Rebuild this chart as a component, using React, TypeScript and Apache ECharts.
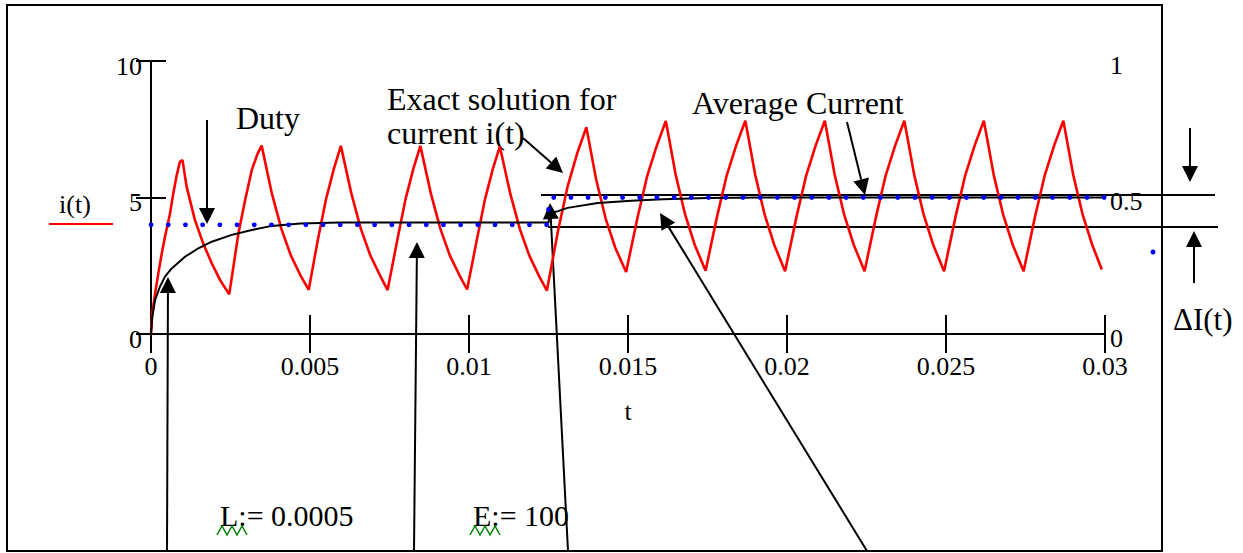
import React, { useEffect, useRef } from "react";
import * as echarts from "echarts";

// ---- data ----
const xMin = 0;
const xMax = 0.03;
const xStep = 0.005;
const leftMax = 10;
const leftStep = 5;
const rightMax = 1;
const rightStep = 0.5;

// exact solution i(t)  [t, i]
const exactCurrent: [number, number][] = [
  [0, 0], [0.00004, 0.76], [0.00013, 1.49], [0.00023, 2.22], [0.00034, 2.96], [0.00044, 3.56],
  [0.0006, 4.42], [0.0007, 5.15], [0.00081, 5.82], [0.00091, 6.31], [0.00099, 6.37],
  [0.00112, 5.4], [0.00138, 4.18], [0.00164, 3.32], [0.00191, 2.59], [0.00217, 1.98], [0.00246, 1.45],
  [0.00259, 2.46], [0.00275, 3.69], [0.00296, 4.91], [0.00317, 6.01], [0.00335, 6.6], [0.00348, 6.9],
  [0.0038, 5.15], [0.0041, 3.85], [0.0044, 2.87], [0.0047, 2.15], [0.00496, 1.62],
  [0.00525, 3.47], [0.0055, 4.92], [0.00575, 6.05], [0.00597, 6.89],
  [0.0063, 5.15], [0.0066, 3.85], [0.0069, 2.87], [0.0072, 2.15], [0.00744, 1.61],
  [0.00775, 3.47], [0.008, 4.92], [0.00825, 6.05], [0.00847, 6.89],
  [0.0088, 5.15], [0.0091, 3.85], [0.0094, 2.87], [0.0097, 2.15], [0.00994, 1.63],
  [0.01025, 3.47], [0.0105, 4.92], [0.01075, 6.05], [0.01097, 6.87],
  [0.0113, 5.13], [0.0116, 3.84], [0.0119, 2.86], [0.0122, 2.13], [0.01245, 1.59],
  [0.0128, 3.78], [0.0131, 5.4], [0.0134, 6.61], [0.01369, 7.57],
  [0.014, 5.65], [0.0143, 4.22], [0.0146, 3.16], [0.01494, 2.27],
  [0.0153, 4.27], [0.0156, 5.77], [0.0159, 6.88], [0.01619, 7.8],
  [0.0165, 5.83], [0.0168, 4.36], [0.0171, 3.26], [0.01744, 2.32],
  [0.0178, 4.3], [0.0181, 5.79], [0.0184, 6.9], [0.01869, 7.81],
  [0.019, 5.83], [0.0193, 4.36], [0.0196, 3.26], [0.01994, 2.3],
  [0.0203, 4.3], [0.0206, 5.79], [0.0209, 6.9], [0.02119, 7.81],
  [0.0215, 5.83], [0.0218, 4.36], [0.0221, 3.26], [0.02244, 2.3],
  [0.0228, 4.3], [0.0231, 5.79], [0.0234, 6.9], [0.02369, 7.81],
  [0.024, 5.83], [0.0243, 4.36], [0.0246, 3.26], [0.02494, 2.3],
  [0.0253, 4.3], [0.0256, 5.79], [0.0259, 6.9], [0.02619, 7.81],
  [0.0265, 5.83], [0.0268, 4.36], [0.0271, 3.26], [0.02744, 2.3],
  [0.0278, 4.3], [0.0281, 5.79], [0.0284, 6.9], [0.02869, 7.81],
  [0.029, 5.83], [0.0293, 4.36], [0.0296, 3.26], [0.0299, 2.36],
];

// average current [t, i]
const averageCurrent: [number, number][] = [
  [0, 0], [0.00004, 0.63], [0.00013, 1.25], [0.00028, 1.73], [0.00044, 2.1], [0.00065, 2.4],
  [0.00107, 2.83], [0.00149, 3.14], [0.00191, 3.38], [0.00254, 3.63], [0.00317, 3.81],
  [0.0038, 3.96], [0.00469, 4.05], [0.00594, 4.08], [0.0125, 4.08],
  [0.01252, 4.25], [0.01256, 4.42], [0.0128, 4.5], [0.0131, 4.62], [0.01405, 4.8],
  [0.0151, 4.88], [0.0161, 4.94], [0.0175, 4.98], [0.0195, 5.0], [0.03, 5.0],
];

// duty (right axis)
const dutyTime = [0, 0.0125, 0.0125, 0.03];
const dutyValue = [0.4, 0.4, 0.5, 0.5];

const SERIF = '"Liberation Serif", "Times New Roman", serif';

function arrow(x1: number, y1: number, x2: number, y2: number) {
  const dx = x2 - x1;
  const dy = y2 - y1;
  const len = Math.sqrt(dx * dx + dy * dy);
  const ux = dx / len;
  const uy = dy / len;
  const hl = 16;
  const hw = 8;
  const bx = x2 - ux * hl;
  const by = y2 - uy * hl;
  return [
    {
      type: "line",
      silent: true,
      shape: { x1, y1, x2: bx, y2: by },
      style: { stroke: "#000", lineWidth: 2 },
    },
    {
      type: "polygon",
      silent: true,
      shape: {
        points: [
          [x2, y2],
          [bx - uy * hw, by + ux * hw],
          [bx + uy * hw, by - ux * hw],
        ],
      },
      style: { fill: "#000" },
    },
  ];
}

function txt(text: string, x: number, y: number, size: number, align = "left") {
  return {
    type: "text",
    silent: true,
    style: {
      text,
      x,
      y,
      fill: "#000",
      fontSize: size,
      fontFamily: SERIF,
      align,
      verticalAlign: "middle",
    },
  };
}

function squiggle(x0: number, y0: number) {
  const pts: number[][] = [];
  for (let i = 0; i <= 6; i++) pts.push([x0 + i * 5, i % 2 === 0 ? y0 + 9 : y0]);
  return {
    type: "polyline",
    silent: true,
    shape: { points: pts },
    style: { stroke: "#008000", lineWidth: 1.5, fill: null },
  };
}

const fmt = (v: number) => String(parseFloat(v.toFixed(4)));

export default function App() {
  const ref = useRef<HTMLDivElement>(null);
  useEffect(() => {
    if (!ref.current) return;
    const chart = echarts.init(ref.current, undefined, { renderer: "svg" });
    const axisLineStyle = { color: "#000", width: 2 };
    const labelBase = { fontSize: 26, fontFamily: SERIF, color: "#000" };
    const option: any = {
      animation: false,
      backgroundColor: "#ffffff",
      grid: { left: 151, right: 138, top: 61, bottom: 219 },
      xAxis: [
        {
          type: "value",
          min: xMin,
          max: xMax,
          interval: xStep,
          position: "bottom",
          axisLine: { lineStyle: axisLineStyle },
          axisTick: { inside: true, length: 19, lineStyle: axisLineStyle },
          axisLabel: { ...labelBase, margin: 19, formatter: fmt },
          splitLine: { show: false },
          name: "t",
          nameLocation: "middle",
          nameGap: 64,
          nameTextStyle: { fontSize: 26, fontFamily: SERIF, color: "#000" },
        },
        {
          type: "value",
          min: xMin,
          max: xMax,
          interval: xStep,
          position: "top",
          axisLine: { lineStyle: axisLineStyle },
          axisTick: { inside: true, length: 19, lineStyle: axisLineStyle },
          axisLabel: { show: false },
          splitLine: { show: false },
        },
      ],
      yAxis: [
        {
          type: "value",
          min: 0,
          max: leftMax,
          interval: leftStep,
          position: "left",
          axisLine: { show: true, lineStyle: axisLineStyle },
          axisTick: { show: true, inside: true, length: 15, lineStyle: axisLineStyle },
          axisLabel: {
            ...labelBase,
            margin: 9,
            verticalAlign: "top",
            lineHeight: 10,
            formatter: fmt,
          },
          splitLine: { show: false },
        },
        {
          type: "value",
          min: 0,
          max: rightMax,
          interval: rightStep,
          position: "right",
          axisLine: { show: true, lineStyle: axisLineStyle },
          axisTick: { show: true, inside: true, length: 15, lineStyle: axisLineStyle },
          axisLabel: {
            ...labelBase,
            margin: 5,
            verticalAlign: "top",
            lineHeight: 8,
            formatter: fmt,
          },
          splitLine: { show: false },
        },
      ],
      series: [
        {
          name: "i(t)",
          type: "line",
          xAxisIndex: 0,
          yAxisIndex: 0,
          data: exactCurrent,
          showSymbol: false,
          lineStyle: { color: "#ff0000", width: 2.6 },
          z: 3,
        },
        {
          name: "Average Current",
          type: "line",
          xAxisIndex: 0,
          yAxisIndex: 0,
          data: averageCurrent,
          showSymbol: false,
          smooth: false,
          lineStyle: { color: "#000", width: 2 },
          z: 4,
        },
        {
          name: "Duty",
          type: "line",
          xAxisIndex: 0,
          yAxisIndex: 1,
          data: dutyTime.map((t, i) => [t, dutyValue[i]]),
          showSymbol: false,
          lineStyle: { color: "#0000ff", width: 4.8, type: [0.1, 17.1], cap: "round" },
          z: 5,
        },
      ],
      graphic: {
        elements: [
          {
            type: "rect",
            silent: true,
            shape: { x: 7, y: 5, width: 1155, height: 546 },
            style: { fill: null, stroke: "#000", lineWidth: 2 },
          },
          // legend sample for i(t)
          txt("i(t)", 75, 204, 26, "center"),
          {
            type: "line",
            silent: true,
            shape: { x1: 49, y1: 224, x2: 113, y2: 224 },
            style: { stroke: "#ff0000", lineWidth: 2 },
          },
          // legend sample for duty trace (right axis)
          {
            type: "circle",
            silent: true,
            shape: { cx: 1153, cy: 252, r: 2.5 },
            style: { fill: "#0000ff" },
          },
          // ripple bracket lines
          {
            type: "line",
            silent: true,
            shape: { x1: 541, y1: 195, x2: 1215, y2: 195 },
            style: { stroke: "#000", lineWidth: 1.8 },
          },
          {
            type: "line",
            silent: true,
            shape: { x1: 548, y1: 227, x2: 1218, y2: 227 },
            style: { stroke: "#000", lineWidth: 1.8 },
          },
          // annotation texts
          txt("Duty", 236, 118, 32),
          txt("Exact solution for", 387, 99, 32),
          txt("current i(t)", 387, 133, 32),
          txt("Average Current", 692, 103, 32),
          txt("ΔI(t)", 1173, 319, 31),
          txt("L:= 0.0005", 220, 515, 30),
          txt("E:= 100", 473, 515, 30),
          squiggle(217, 526),
          squiggle(470, 526),
          // arrows
          ...arrow(207, 120, 207, 224),
          ...arrow(167, 551, 168, 277),
          ...arrow(414, 551, 417, 242),
          ...arrow(568, 551, 550, 203),
          ...arrow(867, 551, 660, 213),
          ...arrow(523, 138, 563, 173),
          ...arrow(847, 122, 865, 195),
          ...arrow(1190, 128, 1190, 182),
          ...arrow(1194, 283, 1194, 231),
        ],
      },
    };
    chart.setOption(option);
    return () => chart.dispose();
  }, []);
  return (
    <div
      ref={ref}
      style={{ position: "fixed", left: 0, top: 0, width: 1243, height: 553, background: "#fff" }}
    />
  );
}
